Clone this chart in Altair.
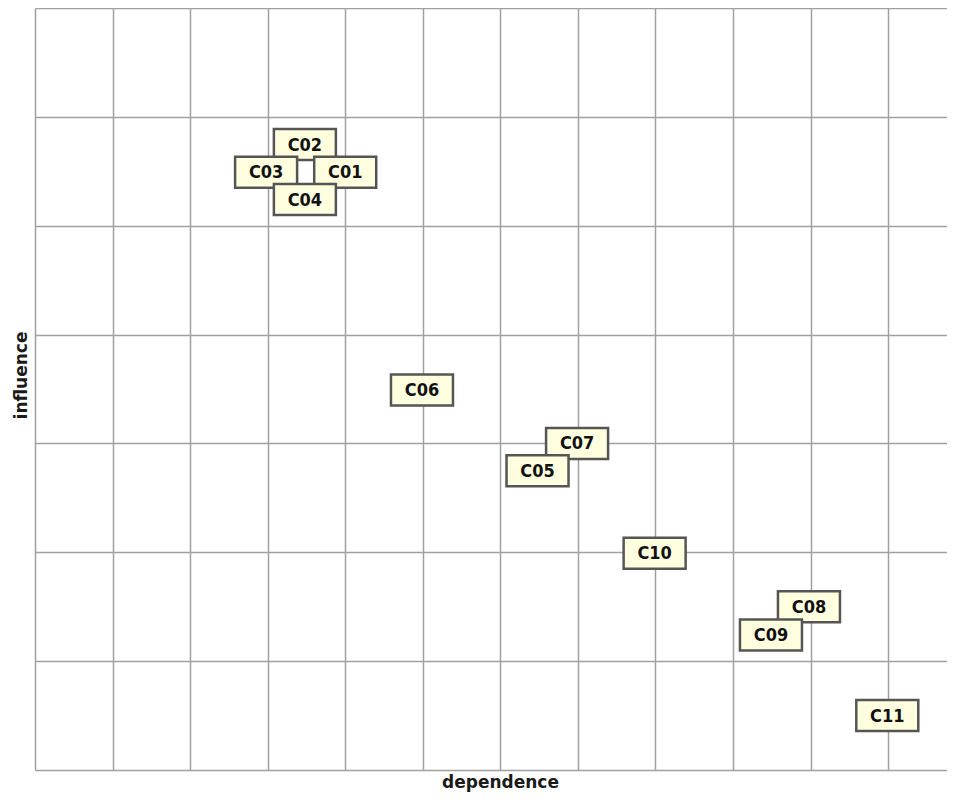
import altair as alt
import pandas as pd

labels = ["C02", "C01", "C03", "C04", "C06", "C07", "C05", "C10", "C08", "C09", "C11"]
dependence = [3.48, 4.00, 2.98, 3.48, 4.99, 6.99, 6.48, 7.99, 9.98, 9.49, 10.99]
influence = [5.745, 5.49, 5.49, 5.24, 3.49, 3.00, 2.75, 1.99, 1.50, 1.24, 0.50]

x_grid = list(range(0, 12))
y_grid = list(range(0, 8))

df = pd.DataFrame({"label": labels, "dependence": dependence, "influence": influence})

x_enc = alt.X(
    "dependence:Q",
    scale=alt.Scale(domain=[0, 11.76], nice=False, zero=False),
    axis=alt.Axis(values=x_grid, grid=True, labels=False, ticks=False, domain=False,
                  title="dependence", titleFont="DejaVu Sans", titleFontSize=17,
                  titleFontWeight="bold", titleColor="#1a1a1a", titlePadding=4,
                  titleX=465),
)
y_enc = alt.Y(
    "influence:Q",
    scale=alt.Scale(domain=[0, 7], nice=False, zero=False),
    axis=alt.Axis(values=y_grid, grid=True, labels=False, ticks=False, domain=False,
                  title="influence", titleFont="DejaVu Sans", titleFontSize=17,
                  titleFontWeight="bold", titleColor="#1a1a1a", titlePadding=5,
                  titleY=367),
)

boxes = alt.Chart(df).mark_rect(
    width=62, height=31, fill="#FFFFE0", stroke="#555555", strokeWidth=2.5
).encode(x=x_enc, y=y_enc)

texts = alt.Chart(df).mark_text(
    font="DejaVu Sans Condensed, Liberation Sans Narrow, Roboto Condensed, Roboto, sans-serif",
    fontSize=18, fontWeight="bold", color="#111111",
    align="center", baseline="middle", dy=1
).encode(x=x_enc, y=y_enc, text="label:N")

chart = (boxes + texts).properties(
    width=939, height=784,
    autosize=alt.AutoSizeParams(type="fit", contains="padding"),
    padding={"left": 4, "top": 0, "right": 0, "bottom": 2},
).configure_view(stroke=None).configure_axis(
    gridColor="#a0a0a0", gridWidth=1.5, gridOpacity=1
)

chart.save("out.html", embed_options={"renderer": "svg", "actions": False})
